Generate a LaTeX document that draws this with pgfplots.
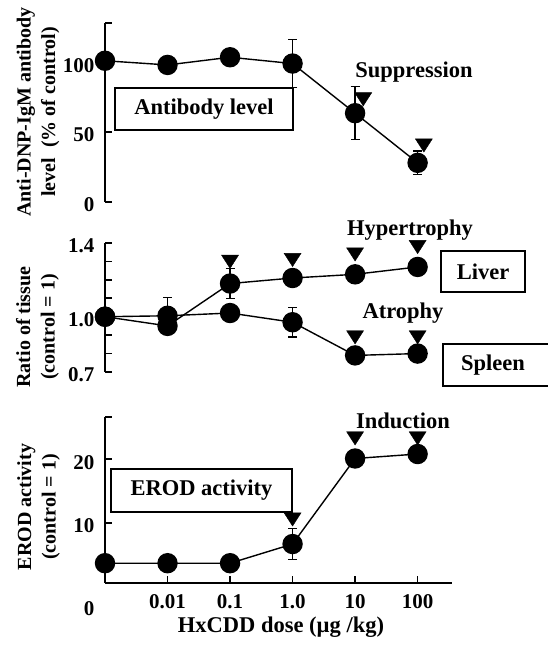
\documentclass[border=0pt]{standalone}
\usepackage{pgfplots}
\pgfplotsset{compat=1.18}
\usepackage{fontspec}
\setmainfont{Liberation Serif}
\newcommand{\lf}{\bfseries\fontsize{20}{24.5}\selectfont}
\newcommand{\af}{\bfseries\fontsize{22.5}{26}\selectfont}
\newcommand{\tf}{\bfseries\fontsize{21}{24}\selectfont}
\begin{document}
\begin{tikzpicture}
\useasboundingbox (0pt,0pt) rectangle (548pt,647pt);
\pgfplotsset{
  panel/.style={scale only axis, width=347pt, xmin=0, xmax=5.55, clip=false,
    axis y line*=left, axis line style={line width=1.6pt},
    tick align=inside, major tick length=7pt,
    every tick/.style={line width=1.6pt, black},
    tick label style={font=\tf},
    yticklabel style={xshift=-7pt, yshift=-3pt},
    /pgf/number format/assume math mode=true},
  dat/.style={black, line width=1.4pt, mark=*, mark size=9.5pt,
    mark options={solid, fill=black},
    error bars/.cd, y dir=both, y explicit,
    error bar style={line width=1.4pt},
    error mark options={rotate=90, mark size=4.5pt, line width=1.4pt}},
  tri/.style={black, only marks, mark=triangle*, mark size=9.8pt,
    mark options={rotate=180, fill=black, yscale=0.9}}
}
% ---------- top panel ----------
\begin{axis}[panel, at={(105pt,445pt)}, anchor=south west, height=179pt,
  axis x line=none, ymin=0, ymax=128,
  ytick={0,50,100,128}, yticklabels={0,50,100,{}}]
\addplot[dat] table[x=x, y=y, y error=e] {
x y e
0 101 0
1 98 5
2 103.5 5
3 99 17
4 63.5 19
5 28 8.5
};
\addplot[tri] coordinates {(4.13,75) (5.1,42)};
\end{axis}
% ---------- middle panel ----------
\begin{axis}[panel, at={(105pt,275pt)}, anchor=south west, height=129pt,
  axis x line=none, ymin=0.7, ymax=1.4,
  ytick={0.7,0.8,0.9,1.0,1.1,1.2,1.3,1.4},
  yticklabels={0.7,,,1.0,,,,1.4}]
\addplot[dat] table[x=x, y=y, y error=e] {
x y e
0 1.0 0
1 0.95 0
2 1.18 0.08
3 1.21 0.02
4 1.23 0.02
5 1.27 0.025
};
\addplot[dat] table[x=x, y=y, y error=e] {
x y e
0 1.0 0
1 1.005 0.1
2 1.02 0.04
3 0.97 0.08
4 0.79 0.02
5 0.80 0.02
};
\addplot[tri] coordinates {(2,1.31) (3,1.32) (4,1.35) (5,1.39) (4,0.90) (5,0.90)};
\end{axis}
% ---------- bottom panel ----------
\begin{axis}[panel, at={(105pt,64pt)}, anchor=south west, height=166pt,
  axis x line*=bottom, ymin=0.6, ymax=26.6,
  ytick={10,20,26.6}, yticklabels={10,20,{}},
  xtick={1,2,3,4,5}, xticklabels={0.01,0.1,1.0,10,100},
  xticklabel style={yshift=-8pt}]
\addplot[dat] table[x=x, y=y, y error=e] {
x y e
0 3.7 0
1 3.7 0
2 3.7 0
3 6.7 2.4
4 20.1 0
5 20.8 0
};
\addplot[tri] coordinates {(3,10.9) (4,23.6) (5,23.6)};
\end{axis}
% ---------- annotations ----------
\begin{scope}[every node/.style={font=\af}]
\node at (414pt,575pt) {Suppression};
\node at (410pt,417pt) {Hypertrophy};
\node at (403pt,334pt) {Atrophy};
\node at (403pt,226pt) {Induction};
\node[draw, line width=1.5pt, minimum width=178pt, minimum height=42pt, inner sep=0pt] at (204pt,538pt) {Antibody level};
\node[draw, line width=1.5pt, minimum width=84pt, minimum height=41pt, inner sep=0pt] at (483pt,375.5pt) {Liver};
\node[draw, line width=1.5pt, minimum width=108pt, minimum height=42pt, inner sep=0pt] at (497pt,282pt) {\hspace*{-8pt}Spleen};
\node[draw, line width=1.5pt, minimum width=181pt, minimum height=43pt, inner sep=0pt] at (201.5pt,156.5pt) {EROD activity};
\node[font=\tf] at (89pt,38pt) {0};
\node[font=\af] at (281pt,20pt) {HxCDD dose (µg /kg)};
\end{scope}
\begin{scope}[every node/.style={font=\lf}]
\node[rotate=90, align=center] at (38pt,535pt) {Anti-DNP-IgM antibody\\level\ \ (\% of control)};
\node[rotate=90, align=center] at (37.5pt,320pt) {Ratio of tissue\\(control = 1)};
\node[rotate=90, align=center] at (38.5pt,140pt) {EROD activity\\(control = 1)};
\end{scope}
\end{tikzpicture}
\end{document}
